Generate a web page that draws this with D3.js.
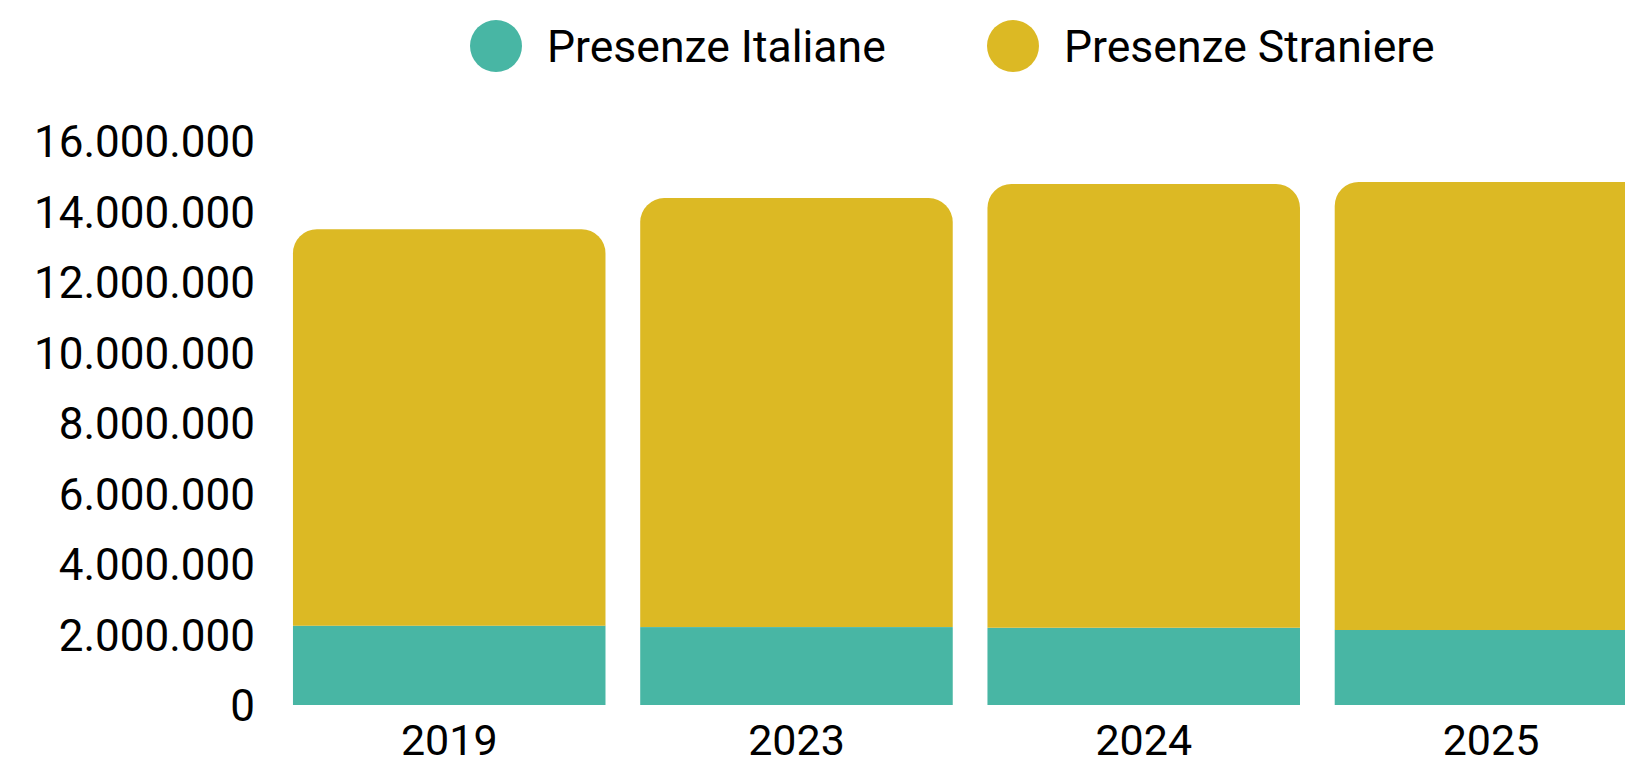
<!DOCTYPE html>
<html>
<head>
<meta charset="utf-8">
<script src="https://cdn.jsdelivr.net/npm/d3@7"></script>
<style>
  body { margin: 0; background: #fff; }
  svg { display: block; font-family: Roboto, sans-serif; }
</style>
</head>
<body>
<svg id="chart"></svg>
<script>
// Data
const years = ['2019', '2023', '2024', '2025'];
const presenzeItaliane = [2250000, 2210000, 2190000, 2130000];
const presenzeStraniere = [11250000, 12170000, 12590000, 12710000];
const yTicks = [0, 2000000, 4000000, 6000000, 8000000, 10000000, 12000000, 14000000, 16000000];
const seriesNames = ['Presenze Italiane', 'Presenze Straniere'];
const seriesColors = ['#48B6A4', '#DCB924'];

const width = 1625;
const height = 767;

const data = years.map((y, i) => ({ year: y, ita: presenzeItaliane[i], str: presenzeStraniere[i] }));

const svg = d3.select('#chart')
    .attr('width', width)
    .attr('height', height);

// Italian number format: 16.000.000
const it = d3.formatLocale({ decimal: ',', thousands: '.', grouping: [3], currency: ['', '€'] });
const fmt = it.format(',d');

// Scales
const x = d3.scaleBand()
    .domain(years)
    .range([275.6, 1664.6])
    .paddingInner(0.1)
    .paddingOuter(0.05);

const y = d3.scaleLinear()
    .domain([0, 16000000])
    .range([705, 141]);

// Stack
const stack = d3.stack().keys(['ita', 'str']);
const layers = stack(data);

const r = 24;
function topRounded(x0, y0, w, y1) {
    // rect from y0 (top) to y1 (bottom) with rounded top corners
    return 'M' + x0 + ',' + y1 +
        'V' + (y0 + r) +
        'A' + r + ',' + r + ' 0 0 1 ' + (x0 + r) + ',' + y0 +
        'H' + (x0 + w - r) +
        'A' + r + ',' + r + ' 0 0 1 ' + (x0 + w) + ',' + (y0 + r) +
        'V' + y1 + 'Z';
}

// Bottom segment (Italian)
svg.append('g')
    .selectAll('rect')
    .data(layers[0])
  .enter().append('rect')
    .attr('x', d => x(d.data.year))
    .attr('y', d => y(d[1]))
    .attr('width', x.bandwidth())
    .attr('height', d => y(d[0]) - y(d[1]))
    .attr('fill', seriesColors[0]);

// Top segment (foreign) with rounded top
svg.append('g')
    .selectAll('path')
    .data(layers[1])
  .enter().append('path')
    .attr('d', d => topRounded(x(d.data.year), y(d[1]), x.bandwidth(), y(d[0])))
    .attr('fill', seriesColors[1]);

// Y axis
const yAxis = d3.axisLeft(y)
    .tickValues(yTicks)
    .tickFormat(fmt)
    .tickSize(0)
    .tickPadding(0);

const gy = svg.append('g')
    .attr('transform', 'translate(255,0)')
    .call(yAxis);
gy.select('.domain').remove();
gy.selectAll('text')
    .attr('dy', '0.36em')
    .style('font-family', 'Roboto, sans-serif')
    .style('font-size', '44px')
    .attr('fill', '#000');

// X axis
const xAxis = d3.axisBottom(x).tickSize(0).tickPadding(0);
const gx = svg.append('g')
    .attr('transform', 'translate(0,740)')
    .call(xAxis);
gx.select('.domain').remove();
gx.selectAll('text')
    .attr('dy', '0.36em')
    .style('font-family', 'Roboto, sans-serif')
    .style('font-size', '43px')
    .attr('fill', '#000');

// Legend
const legendX = [496, 1013];
const legend = svg.append('g');
seriesNames.forEach((name, i) => {
    legend.append('circle')
        .attr('cx', legendX[i])
        .attr('cy', 46)
        .attr('r', 26)
        .attr('fill', seriesColors[i]);
    legend.append('text')
        .attr('x', legendX[i] + 51)
        .attr('y', 46)
        .attr('dy', '0.36em')
        .style('font-size', '44.5px')
        .attr('fill', '#000')
        .text(name);
});
</script>
</body>
</html>
